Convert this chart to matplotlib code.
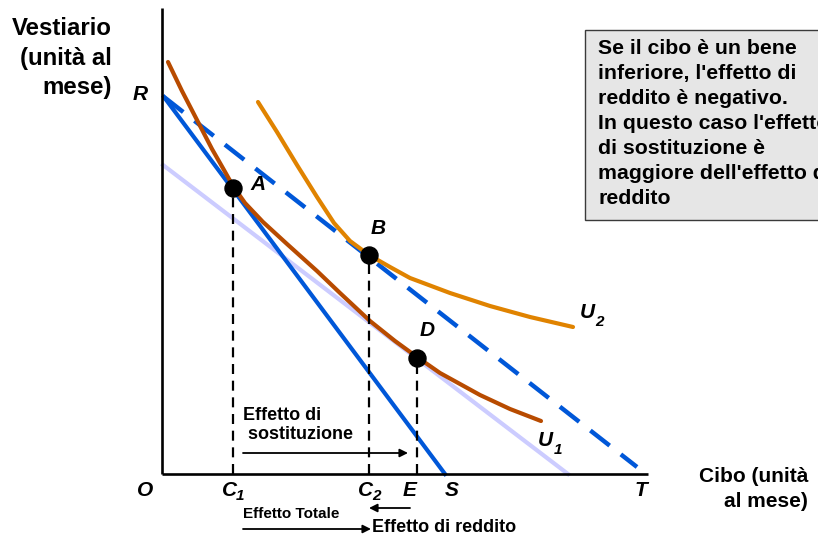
import matplotlib
matplotlib.use("Agg")
import matplotlib.pyplot as plt
from matplotlib.patches import Rectangle

plt.rcParams['font.family'] = ['Liberation Sans', 'DejaVu Sans']

# ---- data (quantities: x = cibo, y = vestiario) ----
budget_initial_x = [2, 283]          # R -> S
budget_initial_y = [377, 0]
budget_new_x = [2, 475]              # R -> T (dashed)
budget_new_y = [377, 7]
budget_comp_x = [1, 406]             # compensated budget (parallel to RT, tangent at D)
budget_comp_y = [309, 0]

u1_x = [6, 20, 35, 50, 62, 71, 83, 101, 125, 155, 178, 208, 233, 255, 278, 318, 348, 379]
u1_y = [412, 383, 354, 325, 304, 288, 271, 252, 230, 203, 181, 153, 133, 117, 101, 79, 65, 53]

u2_x = [96, 115, 135, 155, 172, 188, 207, 228, 248, 288, 328, 368, 411]
u2_y = [372, 342, 309, 277, 251, 233, 219, 207, 196, 181, 168, 157, 147]

pts_names = ['A', 'B', 'D']
pts_x = [71, 207, 255]
pts_y = [286, 219, 116]

tick_names = ['C', 'C', 'E', 'S', 'T']
tick_subs = ['1', '2', '', '', '']
tick_x = [71, 207, 248, 290, 479]

fig = plt.figure(figsize=(8.18, 5.41), dpi=100)
ax = fig.add_axes([0, 0, 1, 1])
ax.set_xlim(-162, 656)
ax.set_ylim(-67, 474)
ax.axis('off')

BLUE = '#0057d8'
ORANGE = '#e08300'
BROWN = '#b84b00'
LAV = '#ccccff'

# axes
ax.plot([0, 0], [0, 466], color='black', lw=1.9, solid_capstyle='butt', zorder=5)
ax.plot([0, 486], [0, 0], color='black', lw=1.9, solid_capstyle='butt', zorder=5)

ax.plot(budget_comp_x, budget_comp_y, color=LAV, lw=3, zorder=1)
ax.plot(budget_initial_x, budget_initial_y, color=BLUE, lw=3, zorder=2)
ax.plot(budget_new_x, budget_new_y, color=BLUE, lw=3.2, dashes=(5.5, 3.2), zorder=2)
ax.plot(u1_x, u1_y, color=BROWN, lw=3, solid_capstyle='round', solid_joinstyle='round', zorder=3)
ax.plot(u2_x, u2_y, color=ORANGE, lw=3, solid_capstyle='round', solid_joinstyle='round', zorder=3)

# dashed verticals
for px, py in zip(pts_x, pts_y):
    ax.plot([px, px], [0, py], color='black', lw=1.6, dashes=(4.5, 3), zorder=4)

ax.scatter(pts_x, pts_y, s=150, color='black', zorder=6)

lbl = dict(fontsize=15, fontweight='bold', fontstyle='italic', ha='center', va='center')
sub = dict(fontsize=11, fontweight='bold', fontstyle='italic', ha='center', va='center')
lbl_off = {'A': (25, 3), 'B': (9, 27), 'D': (10, 27)}
for n, px, py in zip(pts_names, pts_x, pts_y):
    dx, dy = lbl_off[n]
    ax.text(px + dx, py + dy, n, **lbl)

ax.text(-22, 379, 'R', **lbl)
ax.text(-17, -16, 'O', **lbl)
for n, s, x in zip(tick_names, tick_subs, tick_x):
    if s:
        ax.text(x - 3, -16, n, **lbl)
        ax.text(x + 7, -22, s, **sub)
    else:
        ax.text(x, -16, n, **lbl)

ax.text(425, 162, 'U', **lbl)
ax.text(437, 152, '2', **sub)
ax.text(383, 34, 'U', **lbl)
ax.text(396, 24, '1', **sub)

# axis titles
ax.text(-50, 416, 'Vestiario\n(unità al\nmese)', fontsize=17.3, fontweight='bold',
        ha='right', va='center', linespacing=1.37, multialignment='right')
ax.text(646, -15, 'Cibo (unità\nal mese)', fontsize=15, fontweight='bold',
        ha='right', va='center', linespacing=1.4, multialignment='right')

# effects
ax.text(81, 49, 'Effetto di\n sostituzione', fontsize=13, fontweight='bold',
        ha='left', va='center', linespacing=1.2)
arrow = dict(arrowstyle='-|>', color='black', lw=1.3, mutation_scale=12, shrinkA=0, shrinkB=0)
ax.annotate('', xy=(246, 21), xytext=(81, 21), arrowprops=arrow)
ax.annotate('', xy=(207, -34), xytext=(248, -34), arrowprops=arrow)
ax.text(81, -40, 'Effetto Totale', fontsize=11, fontweight='bold', ha='left', va='center')
ax.annotate('', xy=(209, -55), xytext=(81, -55), arrowprops=arrow)
ax.text(210, -54, 'Effetto di reddito', fontsize=13, fontweight='bold', ha='left', va='center')

# note box
ax.add_patch(Rectangle((423, 254), 300, 190, facecolor='#e6e6e6', edgecolor='#3a3a3a',
                       lw=1, zorder=0, clip_on=False))
ax.text(436, 435, "Se il cibo è un bene\ninferiore, l'effetto di\nreddito è negativo.\n"
        "In questo caso l'effetto\ndi sostituzione è\nmaggiore dell'effetto di\nreddito",
        fontsize=15.3, fontweight='bold', ha='left', va='top', linespacing=1.4, zorder=1)

fig.savefig('out.png', dpi=100)
